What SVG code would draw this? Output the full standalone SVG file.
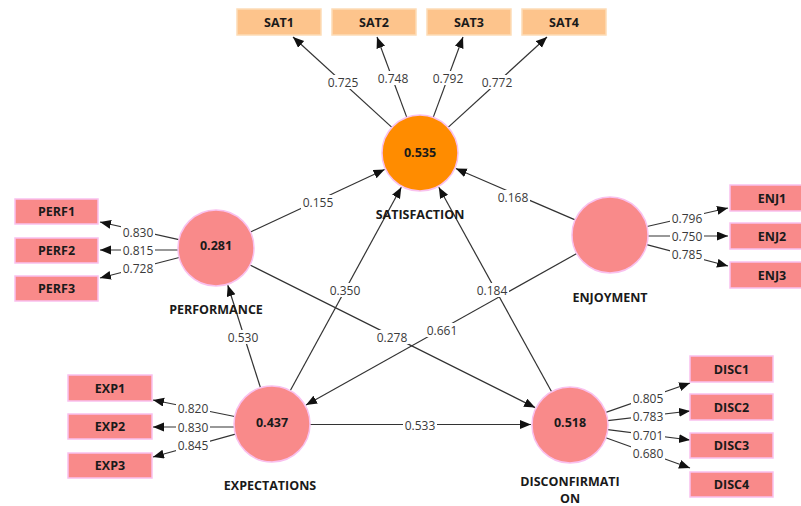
<svg xmlns="http://www.w3.org/2000/svg" width="801" height="506" viewBox="0 0 801 506">
<style>
.bg{fill:#ffffff}
.ln{stroke:#333;stroke-width:1.2;fill:none;marker-end:url(#ah)}
.lat{fill:#f98a8a;stroke:#f9c0ee;stroke-width:1.5}
.sat{fill:#ff8c00;stroke:#f9c0ee;stroke-width:1.5}
.ind{fill:#f98a8a;stroke:#f9c0ee;stroke-width:1.5}
.inds{fill:#fdc48c;stroke:#fddcb6;stroke-width:1.5}
.val{font-family:"Open Sans","Noto Sans",sans-serif;font-size:12px;fill:#3a3a3a;text-anchor:middle;dominant-baseline:central}
.lb{font-family:"Open Sans","Noto Sans",sans-serif;font-size:12.5px;font-weight:bold;fill:#1a1a1a;text-anchor:middle;dominant-baseline:central}
.lbl rect{fill:#ffffff}
</style>
<defs>
<marker id="ah" markerUnits="userSpaceOnUse" markerWidth="12" markerHeight="10" refX="11" refY="4.5" orient="auto">
<path d="M0,0 L11,4.5 L0,9 Z" fill="#111"/>
</marker>
</defs>
<rect class="bg" x="0" y="0" width="801" height="506"/>

<g id="connectors">
<line class="ln" x1="250.5" y1="232" x2="384.6" y2="169.5"/>
<line class="ln" x1="575.1" y1="219.9" x2="455.8" y2="168.5"/>
<line class="ln" x1="290.2" y1="390.7" x2="401.3" y2="187.2"/>
<line class="ln" x1="551.6" y1="391.7" x2="438.8" y2="187.2"/>
<line class="ln" x1="260.5" y1="387.8" x2="227.8" y2="285.2"/>
<line class="ln" x1="250" y1="265" x2="535.1" y2="407.6"/>
<line class="ln" x1="576.8" y1="253.5" x2="306" y2="405"/>
<line class="ln" x1="310" y1="424.5" x2="531" y2="424.5"/>
<line class="ln" x1="391.9" y1="127.4" x2="293" y2="37"/>
<line class="ln" x1="406.8" y1="117.4" x2="377" y2="37"/>
<line class="ln" x1="433.2" y1="117.4" x2="463" y2="37"/>
<line class="ln" x1="448.1" y1="127.4" x2="547" y2="37"/>
<line class="ln" x1="178.9" y1="239.7" x2="100" y2="222"/>
<line class="ln" x1="178" y1="250" x2="100" y2="250"/>
<line class="ln" x1="179.2" y1="257.5" x2="100" y2="278"/>
<line class="ln" x1="647" y1="226.5" x2="728" y2="208"/>
<line class="ln" x1="648" y1="236" x2="728" y2="236"/>
<line class="ln" x1="646.7" y1="244.7" x2="728" y2="266"/>
<line class="ln" x1="234.7" y1="416.5" x2="153" y2="400"/>
<line class="ln" x1="234" y1="427" x2="153" y2="427"/>
<line class="ln" x1="235.4" y1="434.2" x2="153" y2="457"/>
<line class="ln" x1="605.9" y1="412.4" x2="690" y2="383"/>
<line class="ln" x1="607.7" y1="420.6" x2="690" y2="411"/>
<line class="ln" x1="607.7" y1="429.7" x2="690" y2="440"/>
<line class="ln" x1="605.8" y1="437.8" x2="690" y2="468"/>
</g>

<g id="connector-labels" class="lbl">
<rect x="301" y="195" width="34" height="14"/><text class="val" x="318" y="202">0.155</text>
<rect x="496" y="190" width="34" height="14"/><text class="val" x="513" y="197">0.168</text>
<rect x="328" y="283" width="34" height="14"/><text class="val" x="345" y="290">0.350</text>
<rect x="475" y="283" width="34" height="14"/><text class="val" x="492" y="290">0.184</text>
<rect x="226" y="330" width="34" height="14"/><text class="val" x="243" y="337">0.530</text>
<rect x="375" y="330" width="34" height="14"/><text class="val" x="392" y="337">0.278</text>
<rect x="425" y="323" width="34" height="14"/><text class="val" x="442" y="330">0.661</text>
<rect x="403" y="418" width="34" height="14"/><text class="val" x="420" y="425">0.533</text>

<rect x="326" y="75" width="34" height="14"/><text class="val" x="343" y="82">0.725</text>
<rect x="376" y="71" width="34" height="14"/><text class="val" x="393" y="78">0.748</text>
<rect x="431" y="71" width="34" height="14"/><text class="val" x="448" y="78">0.792</text>
<rect x="480" y="75" width="34" height="14"/><text class="val" x="497" y="82">0.772</text>

<rect x="121" y="225" width="34" height="14"/><text class="val" x="138" y="232">0.830</text>
<rect x="121" y="243" width="34" height="14"/><text class="val" x="138" y="250">0.815</text>
<rect x="121" y="261" width="34" height="14"/><text class="val" x="138" y="268">0.728</text>

<rect x="670" y="211" width="34" height="14"/><text class="val" x="687" y="218">0.796</text>
<rect x="670" y="229" width="34" height="14"/><text class="val" x="687" y="236">0.750</text>
<rect x="670" y="247" width="34" height="14"/><text class="val" x="687" y="254">0.785</text>

<rect x="176" y="401" width="34" height="14"/><text class="val" x="193" y="408">0.820</text>
<rect x="176" y="420" width="34" height="14"/><text class="val" x="193" y="427">0.830</text>
<rect x="176" y="438" width="34" height="14"/><text class="val" x="193" y="445">0.845</text>

<rect x="631" y="391" width="34" height="14"/><text class="val" x="648" y="398">0.805</text>
<rect x="631" y="409" width="34" height="14"/><text class="val" x="648" y="416">0.783</text>
<rect x="631" y="428" width="34" height="14"/><text class="val" x="648" y="435">0.701</text>
<rect x="631" y="446" width="34" height="14"/><text class="val" x="648" y="453">0.680</text>
</g>

<g id="SATISFACTION">
<circle class="sat" cx="420" cy="153" r="38"/>
<text class="lb" x="420" y="152">0.535</text>
<text class="lb" x="420" y="214">SATISFACTION</text>
</g>
<g id="PERFORMANCE">
<circle class="lat" cx="216" cy="248" r="38"/>
<text class="lb" x="216" y="245">0.281</text>
<text class="lb" x="216" y="309">PERFORMANCE</text>
</g>
<g id="ENJOYMENT">
<circle class="lat" cx="610" cy="235" r="38"/>
<text class="lb" x="610" y="297">ENJOYMENT</text>
</g>
<g id="EXPECTATIONS">
<circle class="lat" cx="272" cy="424" r="38"/>
<text class="lb" x="272" y="422">0.437</text>
<text class="lb" x="270" y="485">EXPECTATIONS</text>
</g>
<g id="DISCONFIRMATION">
<circle class="lat" cx="570" cy="425" r="38"/>
<text class="lb" x="570" y="422">0.518</text>
<text class="lb" x="570" y="481">DISCONFIRMATI</text>
<text class="lb" x="570" y="498">ON</text>
</g>

<g id="SAT1"><rect class="inds" x="237" y="9" width="84" height="26"/><text class="lb" x="279" y="22">SAT1</text></g>
<g id="SAT2"><rect class="inds" x="332" y="9" width="84" height="26"/><text class="lb" x="374" y="22">SAT2</text></g>
<g id="SAT3"><rect class="inds" x="427" y="9" width="84" height="26"/><text class="lb" x="469" y="22">SAT3</text></g>
<g id="SAT4"><rect class="inds" x="522" y="9" width="84" height="26"/><text class="lb" x="564" y="22">SAT4</text></g>

<g id="PERF1"><rect class="ind" x="15" y="199" width="83" height="25"/><text class="lb" x="56.5" y="211.5">PERF1</text></g>
<g id="PERF2"><rect class="ind" x="15" y="238" width="83" height="25"/><text class="lb" x="56.5" y="250.5">PERF2</text></g>
<g id="PERF3"><rect class="ind" x="15" y="276" width="83" height="25"/><text class="lb" x="56.5" y="288.5">PERF3</text></g>

<g id="ENJ1"><rect class="ind" x="730" y="185" width="84" height="26"/><text class="lb" x="772" y="198">ENJ1</text></g>
<g id="ENJ2"><rect class="ind" x="730" y="223" width="84" height="26"/><text class="lb" x="772" y="236">ENJ2</text></g>
<g id="ENJ3"><rect class="ind" x="730" y="262" width="84" height="26"/><text class="lb" x="772" y="275">ENJ3</text></g>

<g id="EXP1"><rect class="ind" x="68" y="375" width="84" height="26"/><text class="lb" x="110" y="388">EXP1</text></g>
<g id="EXP2"><rect class="ind" x="68" y="414" width="84" height="25"/><text class="lb" x="110" y="426.5">EXP2</text></g>
<g id="EXP3"><rect class="ind" x="68" y="453" width="84" height="25"/><text class="lb" x="110" y="465.5">EXP3</text></g>

<g id="DISC1"><rect class="ind" x="690" y="356" width="83" height="26"/><text class="lb" x="731.5" y="369">DISC1</text></g>
<g id="DISC2"><rect class="ind" x="690" y="394" width="83" height="26"/><text class="lb" x="731.5" y="407">DISC2</text></g>
<g id="DISC3"><rect class="ind" x="690" y="433" width="83" height="25"/><text class="lb" x="731.5" y="445.5">DISC3</text></g>
<g id="DISC4"><rect class="ind" x="690" y="472" width="83" height="25"/><text class="lb" x="731.5" y="484.5">DISC4</text></g>
</svg>
